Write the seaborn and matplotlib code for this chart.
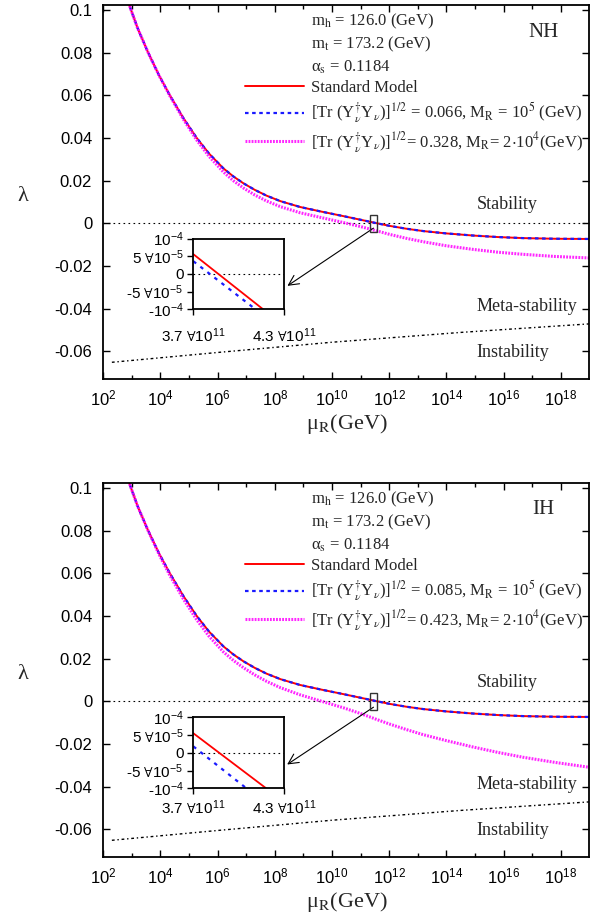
import numpy as np
import matplotlib
matplotlib.use("Agg")
import matplotlib.pyplot as plt
import seaborn as sns
from matplotlib.lines import Line2D
from matplotlib.patches import Rectangle
from matplotlib.font_manager import FontProperties
from matplotlib.ticker import FixedLocator, FuncFormatter, NullFormatter

# ---------------- data ----------------
log10_mu = [2.85, 3.2, 3.57, 3.95, 4.33, 4.8, 5.27, 5.7, 6.2, 6.55, 6.9, 7.3, 7.71, 8.2,
            8.88, 9.6, 10.4, 11.0, 11.59, 12.03, 12.6, 13.19, 14.0, 14.94, 15.8, 16.69,
            17.8, 19.0]
lam_sm = [0.1045, 0.0915, 0.0800, 0.0694, 0.0600, 0.0494, 0.0400, 0.0327, 0.0258, 0.0220,
          0.0188, 0.0157, 0.0130, 0.0104, 0.0077, 0.0056, 0.0034, 0.0017, 0.0000, -0.0012,
          -0.0025, -0.0036, -0.0047, -0.0057, -0.0064, -0.0069, -0.0072, -0.0073]
lam_nh_blue = [0.1045, 0.0915, 0.0800, 0.0694, 0.0600, 0.0494, 0.0400, 0.0327, 0.0258, 0.0220,
               0.0188, 0.0157, 0.0130, 0.0104, 0.0077, 0.0056, 0.0034, 0.0017, 0.0000, -0.0012,
               -0.0025, -0.0036, -0.0047, -0.0057, -0.0064, -0.0069, -0.0072, -0.0073]
lam_nh_mag = [0.1045, 0.0915, 0.0800, 0.0693, 0.0597, 0.0488, 0.0390, 0.0314, 0.0241, 0.0200,
              0.0166, 0.0133, 0.0105, 0.0078, 0.0050, 0.0028, 0.0004, -0.0015, -0.0036, -0.0052,
              -0.0070, -0.0086, -0.0105, -0.0122, -0.0135, -0.0145, -0.0155, -0.0162]
lam_ih_blue = [0.1045, 0.0915, 0.0800, 0.0694, 0.0600, 0.0494, 0.0400, 0.0327, 0.0258, 0.0220,
               0.0188, 0.0157, 0.0130, 0.0104, 0.0077, 0.0056, 0.0034, 0.0017, 0.0000, -0.0012,
               -0.0025, -0.0036, -0.0047, -0.0057, -0.0064, -0.0069, -0.0072, -0.0073]
lam_ih_mag = [0.1045, 0.0915, 0.0799, 0.0689, 0.0590, 0.0480, 0.0382, 0.0305, 0.0232, 0.0192,
              0.0158, 0.0124, 0.0094, 0.0064, 0.0031, 0.0002, -0.0030, -0.0057, -0.0086, -0.0107,
              -0.0132, -0.0156, -0.0184, -0.0214, -0.0239, -0.0262, -0.0286, -0.0309]

meta_log10_mu = [2.3, 6.0, 10.0, 14.5, 19.0]
meta_lam = [-0.0651, -0.0605, -0.0557, -0.0511, -0.0471]

# inset (zoom around the zero crossing)
inset_nh_sm_x = [3.7e11, 4.16e11]
inset_nh_sm_y = [5.6e-5, -1.0e-4]
inset_nh_blue_x = [3.7e11, 4.11e11]
inset_nh_blue_y = [3.6e-5, -1.0e-4]
inset_ih_sm_x = [3.7e11, 4.18e11]
inset_ih_sm_y = [5.5e-5, -1.0e-4]
inset_ih_blue_x = [3.7e11, 4.05e11]
inset_ih_blue_y = [1.8e-5, -1.0e-4]

x_major_exp = [2, 4, 6, 8, 10, 12, 14, 16, 18]
x_minor_exp = [3, 5, 7, 9, 11, 13, 15, 17]
y_ticks = [-0.06, -0.04, -0.02, 0.0, 0.02, 0.04, 0.06, 0.08, 0.1]
y_tick_labels = ["-0.06", "-0.04", "-0.02", "0", "0.02", "0.04", "0.06", "0.08", "0.1"]
inset_x_ticks = [3.7e11, 4.3e11]
inset_x_labels = [r"3.7 $\forall$10$^{11}$", r"4.3 $\forall$10$^{11}$"]
inset_y_ticks = [-1e-4, -5e-5, 0.0, 5e-5, 1e-4]
inset_y_labels = [r"-10$^{-4}$", r"-5 $\forall$10$^{-5}$", "0",
                  r"5 $\forall$10$^{-5}$", r"10$^{-4}$"]

params = [r"m$_{\rm h}$ = 126.0 (GeV)", r"m$_{\rm t}$ = 173.2 (GeV)",
          "\u03b1" + r"$_{\rm s}$ = 0.1184"]
panels = [
    dict(tag="NH", blue=lam_nh_blue, mag=lam_nh_mag,
         blue_label=r"[Tr (Y$_{\nu}^{\dagger}$Y$_{\nu}$)]$^{1/2}$ = 0.066, M$_{\rm R}$ = 10$^{5}$ (GeV)",
         mag_label=r"[Tr (Y$_{\nu}^{\dagger}$Y$_{\nu}$)]$^{1/2}$= 0.328, M$_{\rm R}$= 2$\cdot$10$^{4}$(GeV)",
         in_sm=(inset_nh_sm_x, inset_nh_sm_y), in_blue=(inset_nh_blue_x, inset_nh_blue_y),
         ax_rect=[0.1713, 0.5888, 0.8060, 0.4061], in_rect=[0.3206, 0.6642, 0.1509, 0.0767],
         in_pad=8, arrow=((3.4e11, -0.0015), (10 ** 8.36, -0.0300))),
    dict(tag="IH", blue=lam_ih_blue, mag=lam_ih_mag,
         blue_label=r"[Tr (Y$_{\nu}^{\dagger}$Y$_{\nu}$)]$^{1/2}$ = 0.085, M$_{\rm R}$ = 10$^{5}$ (GeV)",
         mag_label=r"[Tr (Y$_{\nu}^{\dagger}$Y$_{\nu}$)]$^{1/2}$= 0.423, M$_{\rm R}$= 2$\cdot$10$^{4}$(GeV)",
         in_sm=(inset_ih_sm_x, inset_ih_sm_y), in_blue=(inset_ih_blue_x, inset_ih_blue_y),
         ax_rect=[0.1713, 0.0698, 0.8060, 0.4061], in_rect=[0.3206, 0.1441, 0.1509, 0.0771],
         in_pad=3, arrow=((3.4e11, -0.0020), (10 ** 8.35, -0.0303))),
]
box_x = [2.15e11, 3.75e11]
box_y = [-0.0041, 0.0037]

# ---------------- style ----------------
sns.set_theme(style="ticks")
plt.rcParams["font.family"] = ["Liberation Sans", "DejaVu Sans"]
plt.rcParams["mathtext.fontset"] = "custom"
plt.rcParams["mathtext.rm"] = "Liberation Sans"
plt.rcParams["mathtext.it"] = "Liberation Sans:italic"
plt.rcParams["mathtext.bf"] = "Liberation Sans:bold"
plt.rcParams["mathtext.fallback"] = "stixsans"
plt.rcParams["axes.unicode_minus"] = False
SERIF = ["Liberation Serif", "DejaVu Serif"]

RED = "#ff0000"
BLUE = "#1a1aff"
MAG = "#ff00ff"

fig = plt.figure(figsize=(6.03, 9.21), dpi=100)
mu = 10 ** np.array(log10_mu)
meta_mu = 10 ** np.array(meta_log10_mu)


def draw_line(ax, x, y, **kw):
    sns.lineplot(x=x, y=y, ax=ax, sort=False, estimator=None, legend=False, **kw)
    return ax.get_lines()[-1]


for p in panels:
    ax = fig.add_axes(p["ax_rect"])
    ax.set_xscale("log")
    ax.axhline(0.0, color="black", lw=0.8, linestyle=(0, (1.5, 3)), zorder=1)
    draw_line(ax, meta_mu, meta_lam, color="black", lw=1.0, linestyle=(0, (2, 2, 1, 2)))
    h_sm = draw_line(ax, mu, lam_sm, color=RED, lw=1.4, label="Standard Model")
    h_bl = draw_line(ax, mu, p["blue"], color=BLUE, lw=1.6, linestyle=(0, (1.6, 1.6)))
    h_mg = draw_line(ax, mu, p["mag"], color=MAG, lw=2.2, linestyle=(0, (0.6, 0.4)), alpha=0.85)

    ax.set_xlim(1e2, 1e19)
    ax.set_ylim(-0.0728, 0.1025)

    ax.xaxis.set_major_locator(FixedLocator([10.0 ** e for e in x_major_exp]))
    ax.xaxis.set_minor_locator(FixedLocator([10.0 ** e for e in x_minor_exp]))
    ax.xaxis.set_major_formatter(FuncFormatter(lambda v, pos: r"$10^{%d}$" % round(np.log10(v))))
    ax.xaxis.set_minor_formatter(NullFormatter())
    ax.set_yticks(y_ticks, labels=y_tick_labels)
    ax.yaxis.set_minor_locator(FixedLocator([]))
    ax.tick_params(which="both", direction="in", top=True, right=True, width=1, colors="black")
    ax.tick_params(which="major", length=5, labelsize=12)
    ax.tick_params(which="minor", length=3)
    ax.tick_params(axis="x", pad=7)
    ax.tick_params(axis="y", pad=8)
    for s in ax.spines.values():
        s.set_linewidth(1.3)
        s.set_color("black")
        s.set_visible(True)

    ax.set_xlabel("\u03bc" + r"$_{\rm R}$(GeV)", fontsize=16, family=SERIF, math_fontfamily="stix")
    ax.xaxis.set_label_coords(0.5, -0.090)
    ax.set_ylabel("\u03bb", fontsize=16, family=SERIF, rotation=0, va="center")
    ax.yaxis.set_label_coords(-0.165, 0.486)

    # region labels
    for txt, yv in [("Stability", 0.0090), ("Meta-stability", -0.0389), ("Instability", -0.0607)]:
        ax.text(10 ** 15.05, yv, txt, fontsize=13, family=SERIF, va="center", ha="left")
    ax.text(0.905, 0.927, p["tag"], transform=ax.transAxes, fontsize=15, family=SERIF,
            ha="center", va="center")

    # legend
    blanks = [Line2D([], [], linestyle="none") for _ in range(3)]
    handles = blanks + [h_sm, h_bl, h_mg]
    labels = params + ["Standard Model", p["blue_label"], p["mag_label"]]
    fp = FontProperties(family=SERIF, size=12.0, math_fontfamily="stix")
    ax.legend(handles, labels, loc="upper left", bbox_to_anchor=(0.292, 0.982), frameon=False,
              prop=fp, handlelength=3.5, handletextpad=0.45, labelspacing=0.26,
              borderpad=0, borderaxespad=0)

    # zoom box and arrow
    ax.add_patch(Rectangle((box_x[0], box_y[0]), box_x[1] - box_x[0], box_y[1] - box_y[0],
                           fill=False, edgecolor="#333333", lw=1.0, zorder=5))
    (x0, y0), (x1, y1) = p["arrow"]
    ax.annotate("", xy=(x1, y1), xytext=(x0, y0),
                arrowprops=dict(arrowstyle="->,head_length=0.6,head_width=0.3", color="black", lw=0.8))

    # inset
    ai = fig.add_axes(p["in_rect"])
    ai.set_facecolor("white")
    ai.axhline(0.0, color="black", lw=0.8, linestyle=(0, (1.5, 3)))
    draw_line(ai, p["in_sm"][0], p["in_sm"][1], color=RED, lw=1.3)
    draw_line(ai, p["in_blue"][0], p["in_blue"][1], color=BLUE, lw=1.6, linestyle=(0, (1.6, 2.4)))
    ai.set_xlim(3.7e11, 4.3e11)
    ai.set_ylim(-1e-4, 1e-4)
    ai.set_xticks(inset_x_ticks, labels=inset_x_labels)
    ai.set_yticks(inset_y_ticks, labels=inset_y_labels)
    ai.tick_params(direction="out", length=4, width=1, labelsize=11, colors="black")
    ai.tick_params(axis="x", pad=p["in_pad"])
    ai.tick_params(axis="y", pad=3)
    ai.set_xlabel("")
    ai.set_ylabel("")
    for s in ai.spines.values():
        s.set_linewidth(1.3)
        s.set_color("black")
        s.set_visible(True)

fig.savefig("out.png", dpi=100)
